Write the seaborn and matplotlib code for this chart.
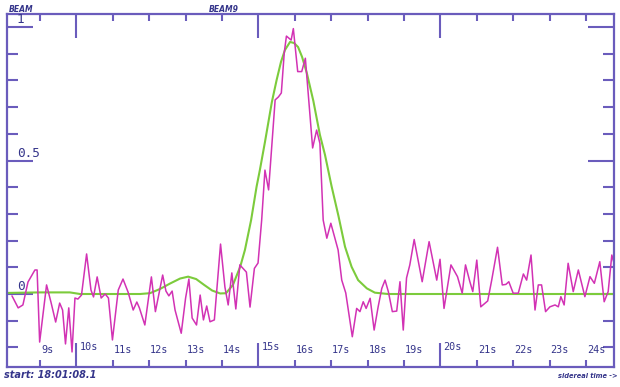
"""
Radio telescope drift scan - BEAM9 transit
Magenta: measured power, green: fitted beam profile
"""
import matplotlib
matplotlib.use('Agg')
import matplotlib.pyplot as plt
import seaborn as sns
import pandas as pd

# measured signal (normalised power) vs sidereal time offset in seconds
sig_time = [8.23, 8.40, 8.53, 8.67, 8.86, 8.92, 8.99, 9.18, 9.30, 9.43,
            9.54, 9.62, 9.70, 9.79, 9.88, 9.96, 10.04, 10.14, 10.28, 10.40,
            10.47, 10.57, 10.68, 10.79, 10.88, 10.99, 11.15, 11.28, 11.42, 11.56,
            11.66, 11.73, 11.88, 12.06, 12.17, 12.37, 12.46, 12.54, 12.63, 12.71,
            12.88, 13.00, 13.09, 13.18, 13.30, 13.40, 13.49, 13.58, 13.67, 13.79,
            13.96, 14.08, 14.17, 14.27, 14.38, 14.49, 14.67, 14.77, 14.89, 14.99,
            15.09, 15.18, 15.28, 15.46, 15.55, 15.63, 15.71, 15.77, 15.90, 15.96,
            16.08, 16.19, 16.29, 16.49, 16.60, 16.69, 16.78, 16.88, 16.99, 17.19,
            17.29, 17.40, 17.58, 17.70, 17.79, 17.88, 17.96, 18.07, 18.18, 18.29,
            18.39, 18.48, 18.57, 18.68, 18.80, 18.89, 18.98, 19.07, 19.16, 19.28,
            19.50, 19.69, 19.90, 19.99, 20.10, 20.29, 20.47, 20.60, 20.69, 20.81,
            20.89, 21.00, 21.11, 21.30, 21.41, 21.57, 21.70, 21.80, 21.88, 22.00,
            22.14, 22.28, 22.37, 22.49, 22.60, 22.69, 22.78, 22.89, 23.01, 23.15,
            23.24, 23.31, 23.40, 23.51, 23.65, 23.79, 23.97, 24.11, 24.23, 24.38,
            24.50, 24.61, 24.71, 24.77]
sig_power = [-0.007, -0.052, -0.041, 0.045, 0.090, 0.090, -0.180, 0.034, -0.030, -0.105,
             -0.034, -0.060, -0.187, -0.052, -0.217, -0.015, -0.019, -0.004, 0.150, 0.015,
             -0.011, 0.064, -0.015, 0.000, -0.015, -0.172, 0.015, 0.056, 0.007, -0.060,
             -0.030, -0.052, -0.116, 0.064, -0.066, 0.071, 0.011, -0.007, 0.011, -0.060,
             -0.147, -0.015, 0.056, -0.090, -0.116, -0.004, -0.097, -0.045, -0.104, -0.097,
             0.187, 0.026, -0.041, 0.079, -0.056, 0.109, 0.082, -0.049, 0.096, 0.116,
             0.277, 0.464, 0.390, 0.727, 0.738, 0.753, 0.903, 0.966, 0.951, 0.994,
             0.833, 0.833, 0.883, 0.547, 0.614, 0.564, 0.277, 0.209, 0.265, 0.165,
             0.052, 0.004, -0.160, -0.054, -0.066, -0.029, -0.054, -0.016, -0.135, -0.048,
             0.021, 0.052, 0.009, -0.066, -0.064, 0.046, -0.135, 0.060, 0.109, 0.204,
             0.046, 0.196, 0.052, 0.130, -0.054, 0.109, 0.065, 0.003, 0.109, 0.046,
             0.009, 0.127, -0.048, -0.026, 0.052, 0.175, 0.034, 0.036, 0.046, 0.003,
             0.003, 0.075, 0.052, 0.146, -0.060, 0.034, 0.034, -0.066, -0.048, -0.041,
             -0.048, -0.010, -0.041, 0.115, 0.009, 0.090, -0.010, 0.065, 0.040, 0.121,
             -0.029, 0.009, 0.146, 0.116]

# fitted beam profile
fit_time = [8.09, 9.00, 9.82, 10.10, 11.75, 12.02, 12.30, 12.57, 12.85, 13.07,
            13.29, 13.51, 13.73, 13.95, 14.11, 14.30, 14.50, 14.63, 14.80, 14.95,
            15.04, 15.18, 15.37, 15.50, 15.62, 15.73, 15.87, 15.98, 16.09, 16.20,
            16.33, 16.51, 16.69, 16.83, 17.01, 17.20, 17.38, 17.56, 17.74, 17.98,
            18.20, 18.56, 24.77]
fit_power = [0.004, 0.006, 0.006, 0.000, 0.000, 0.003, 0.019, 0.039, 0.058, 0.065,
             0.056, 0.034, 0.013, 0.002, 0.003, 0.034, 0.102, 0.165, 0.277, 0.402,
             0.464, 0.569, 0.719, 0.801, 0.869, 0.914, 0.944, 0.940, 0.925, 0.888,
             0.828, 0.723, 0.596, 0.521, 0.404, 0.292, 0.177, 0.102, 0.052, 0.021,
             0.005, 0.000, 0.000]

x_seconds = list(range(9, 25))
x_major = [10, 15, 20]
y_minor = [-0.2, -0.1, 0.1, 0.2, 0.3, 0.4, 0.6, 0.7, 0.8, 0.9]
y_major = [0.0, 0.5, 1.0]
y_labels = ['0', '0.5', '1']

FRAME = '#6a5cbc'
TEXT = '#34348a'
MAGENTA = '#d232b4'
GREEN = '#7ccb3c'

sns.set_style('white')
plt.rcParams['font.family'] = ['DejaVu Sans']

fig = plt.figure(figsize=(6.2, 3.87), dpi=100)
ax = fig.add_axes([7 / 620, 20 / 387, 607 / 620, 353 / 387])

sig = pd.DataFrame({'t': sig_time, 'p': sig_power})
fit = pd.DataFrame({'t': fit_time, 'p': fit_power})
sns.lineplot(data=fit, x='t', y='p', ax=ax, color=GREEN, lw=1.5,
             estimator=None, sort=False, zorder=2)
sns.lineplot(data=sig, x='t', y='p', ax=ax, color=MAGENTA, lw=1.1,
             estimator=None, sort=False, zorder=2.2)

ax.set_xlim(8.093, 24.77)
ax.set_ylim(-0.2734, 1.0487)
ax.set_xlabel('')
ax.set_ylabel('')

for s in ax.spines.values():
    s.set_color(FRAME)
    s.set_linewidth(1.6)

x_minor = [s for s in x_seconds if s not in x_major]
ax.set_xticks(x_major)
ax.set_xticks(x_minor, minor=True)
ax.set_yticks(y_major)
ax.set_yticks(y_minor, minor=True)
ax.tick_params(axis='x', which='major', direction='in', length=17, width=1.5,
               color=FRAME, top=True, bottom=True, labelbottom=False)
ax.tick_params(axis='x', which='minor', direction='in', length=4.8, width=1.5,
               color=FRAME, top=True, bottom=True)
ax.tick_params(axis='y', which='major', direction='in', length=19, width=1.5,
               color=FRAME, left=True, right=True, labelleft=False)
ax.tick_params(axis='y', which='minor', direction='in', length=8, width=1.5,
               color=FRAME, left=True, right=True)

# tick labels sit inside the frame, like the original scope display
for s in x_seconds:
    big = s in x_major
    ax.annotate(f'{s}s', xy=(s, 0), xycoords=('data', 'axes fraction'),
                xytext=(3 if big else 1, 17 if big else 14), textcoords='offset pixels',
                ha='left', va='baseline', fontsize=7.3, color=TEXT,
                family='DejaVu Sans Mono')
for v, lab in zip(y_major, y_labels):
    ax.annotate(lab, xy=(0, v), xycoords=('axes fraction', 'data'),
                xytext=(10, 4), textcoords='offset pixels',
                ha='left', va='baseline', fontsize=9.2, color=TEXT,
                family='DejaVu Sans Mono')

fig.text(9 / 620, 1 - 12 / 387, 'BEAM', fontsize=5.5, fontweight='bold',
         fontstyle='italic', color=TEXT)
fig.text(209 / 620, 1 - 12 / 387, 'BEAM9', fontsize=5.5, fontweight='bold',
         fontstyle='italic', color=TEXT)
fig.text(4 / 620, 1 - 378 / 387, 'start: 18:01:08.1', fontsize=7, fontweight='bold',
         fontstyle='italic', color=TEXT)
fig.text(618 / 620, 1 - 378 / 387, 'sidereal time ->', fontsize=4.8, fontweight='bold',
         fontstyle='italic', color=TEXT, ha='right')

fig.savefig('out.png', dpi=100, facecolor='white')
